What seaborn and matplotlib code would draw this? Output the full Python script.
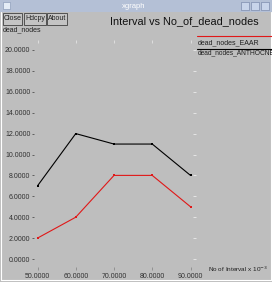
import matplotlib
matplotlib.use("Agg")
import matplotlib.pyplot as plt
import seaborn as sns
import pandas as pd
from matplotlib.patches import Rectangle
from matplotlib.lines import Line2D

intervals = [50, 60, 70, 80, 90]
eaar = [2, 4, 8, 8, 5]
anthocnet = [7, 12, 11, 11, 8]
series_names = ["dead_nodes_EAAR", "dead_nodes_ANTHOCNET"]
y_ticks = [0, 2, 4, 6, 8, 10, 12, 14, 16, 18, 20]
x_ticks = [50, 60, 70, 80, 90]

sns.set_theme(style="white")
plt.rcParams['font.family'] = ['Liberation Sans', 'DejaVu Sans']

W, H = 272, 282
BG = "#bebebe"
fig = plt.figure(figsize=(W / 100, H / 100), dpi=100, facecolor=BG)

def fx(px):
    return px / W

def fy(py):
    return 1 - py / H

# axes placement (pixels)
L, R, T, B = 34, 196, 40, 267
ax = fig.add_axes([fx(L), fy(B), (R - L) / W, (B - T) / H])
ax.set_facecolor(BG)
for s in ax.spines.values():
    s.set_visible(False)

df = pd.DataFrame({
    "interval": intervals * 2,
    "dead": eaar + anthocnet,
    "protocol": [series_names[0]] * len(eaar) + [series_names[1]] * len(anthocnet),
})
sns.lineplot(data=df, x="interval", y="dead", hue="protocol",
             palette={series_names[0]: "#e01818", series_names[1]: "#000000"},
             marker="s", markersize=2.0, markeredgewidth=0, linewidth=0.8,
             legend=False, ax=ax)

# pixel mapping -> data limits
x0px, xscale = 37.5, 3.825
y0px, yscale = 259.0, 10.45
ax.set_xlim(50 + (L - x0px) / xscale, 50 + (R - x0px) / xscale)
ax.set_ylim((y0px - B) / yscale, (y0px - T) / yscale)

ax.set_xticks(x_ticks)
ax.set_yticks(y_ticks)
ax.set_xticklabels([f"{v:.4f}" for v in x_ticks])
ax.set_yticklabels([f"{v:.4f}" for v in y_ticks])
ax.set_xlabel("")
ax.set_ylabel("")
ax.tick_params(axis="y", which="major", direction="out", length=1.6, width=0.6,
               labelsize=5, labelcolor="#303030", pad=1, color="#505050",
               left=True, right=False)
ax.tick_params(axis="x", which="major", direction="out", length=2, width=0.6,
               labelsize=5, labelcolor="#303030", pad=2.5, color="#8a8a8a",
               bottom=True, top=False)

# light tick marks on top and right edges
sec_r = ax.secondary_yaxis("right")
sec_r.set_yticks(y_ticks)
sec_r.set_yticklabels([])
sec_r.tick_params(direction="in", length=2.5, width=0.6, color="#ececec")
sec_r.spines["right"].set_visible(False)
sec_t = ax.secondary_xaxis("top")
sec_t.set_xticks(x_ticks)
sec_t.set_xticklabels([])
sec_t.tick_params(direction="in", length=2.5, width=0.6, color="#e4e4e4")
sec_t.spines["top"].set_visible(False)

# title bar
fig.add_artist(Rectangle((0, fy(12)), 1, 12 / H, transform=fig.transFigure,
                         facecolor="#b4c0d6", edgecolor="none"))
fig.add_artist(Rectangle((fx(3), fy(9)), 7 / W, 7 / H, transform=fig.transFigure,
                         facecolor="#e4ecf6", edgecolor="#8090b0", linewidth=0.4))
fig.text(fx(134), fy(6), "xgraph", ha="center", va="center", fontsize=5.5,
         color="white")
for bx in (241, 251, 261):
    fig.add_artist(Rectangle((fx(bx), fy(10)), 8 / W, 8 / H, transform=fig.transFigure,
                             facecolor="#c8d4ea", edgecolor="#6c7ca0", linewidth=0.4))

# window border lines
fig.add_artist(Line2D([fx(1), fx(1)], [fy(12), fy(280)], transform=fig.transFigure,
                      color="white", linewidth=0.8))
fig.add_artist(Line2D([fx(1), fx(271)], [fy(280), fy(280)], transform=fig.transFigure,
                      color="white", linewidth=0.8))
fig.add_artist(Line2D([fx(271), fx(271)], [fy(12), fy(280)], transform=fig.transFigure,
                      color="white", linewidth=0.8))

# buttons
for label, x1, x2 in (("Close", 3, 22), ("Hdcpy", 24, 46), ("About", 47, 67)):
    fig.add_artist(Rectangle((fx(x1), fy(25)), (x2 - x1) / W, 12 / H,
                             transform=fig.transFigure, facecolor="#c4c4c4",
                             edgecolor="#404040", linewidth=0.6))
    fig.text(fx((x1 + x2) / 2), fy(19), label, ha="center", va="center",
             fontsize=5, color="#202020")

# titles / labels
fig.text(fx(184), fy(21), "Interval vs No_of_dead_nodes", ha="center", va="center",
         fontsize=7.8, color="#111111")
fig.text(fx(3), fy(30), "dead_nodes", ha="left", va="center", fontsize=5,
         color="#202020")
fig.text(fx(208), fy(269.5), "No of Interval x 10$^{-3}$", ha="left", va="center",
         fontsize=4.6, color="#202020")

# legend
fig.add_artist(Line2D([fx(197), fx(272)], [fy(36), fy(36)], transform=fig.transFigure,
                      color="#e01818", linewidth=0.8))
fig.text(fx(198), fy(42.5), series_names[0], ha="left", va="center", fontsize=5,
         color="#202020")
fig.add_artist(Line2D([fx(197), fx(272)], [fy(49.5), fy(49.5)], transform=fig.transFigure,
                      color="#000000", linewidth=0.8))
fig.text(fx(198), fy(53), series_names[1], ha="left", va="center", fontsize=4.8,
         color="#202020")

fig.savefig("out.png", dpi=100, facecolor=BG)
